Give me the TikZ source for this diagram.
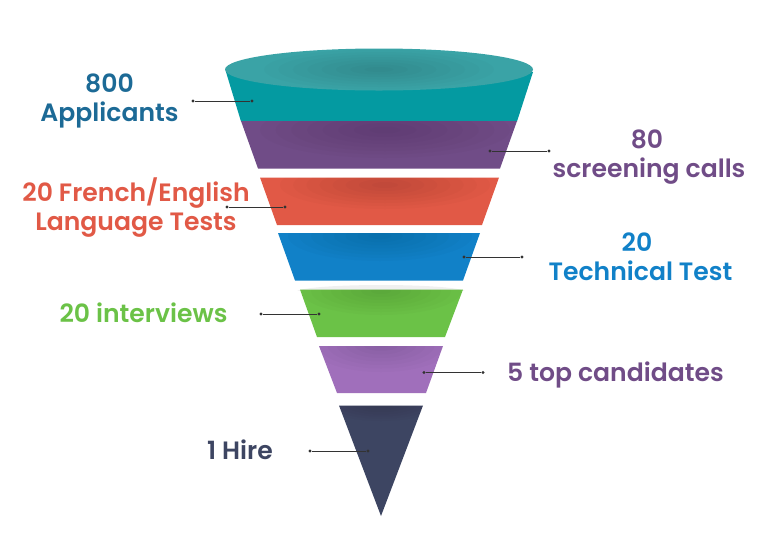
\documentclass[tikz,border=0pt]{standalone}
\usepackage{fontspec}
\setmainfont{Poppins}[UprightFont=* Medium,BoldFont=* SemiBold]
\definecolor{cteal}{HTML}{049AA1}
\definecolor{ctop}{HTML}{3AA3A6}
\definecolor{cpurple}{HTML}{704C87}
\definecolor{cred}{HTML}{E15946}
\definecolor{cblue}{HTML}{1181C8}
\definecolor{cgreen}{HTML}{6BC247}
\definecolor{clilac}{HTML}{A06FBB}
\definecolor{cnavy}{HTML}{3D4562}
\definecolor{ctitle}{HTML}{1C6A96}
\definecolor{cleader}{HTML}{333333}
\tikzset{
  x=1pt,y=-1pt,
  lab/.style={font=\bfseries\fontsize{25.1}{29}\selectfont,align=center,inner sep=0pt},
  leader/.style={draw=cleader,line width=1pt},
  dot/.style={circle,fill=cleader,inner sep=0pt,minimum size=3.4pt},
}
% #1 polygon path, #2 centre x, #3 centre y, #4 rx, #5 ry
\newcommand{\glow}[5]{%
  \begin{scope}
    \clip #1;
    \foreach \k in {1,...,8}{
      \fill[black,fill opacity=0.014] (#2,#3) ellipse [x radius={#4*\k/8},y radius={#5*\k/8}];
    }
  \end{scope}}
\begin{document}
\begin{tikzpicture}
\useasboundingbox (0,0) rectangle (758,550);
% faint halos above the lower tiers
\begin{scope}
  \clip (290,283) rectangle (475,290);
  \fill[black,fill opacity=0.06] (381,292) ellipse [x radius=85,y radius=7];
\end{scope}
% funnel
\fill[cteal] (226,72) -- (241,121.5) -- (517,121.5) -- (533,72) -- cycle;
\fill[cpurple] (241,121) -- (517,121) -- (500,168.5) -- (258,168.5) -- cycle;
\glow{(241,121) -- (517,121) -- (500,168.5) -- (258,168.5) -- cycle}{385}{130}{125}{28}
\fill[cred] (260,177.5) -- (499,177.5) -- (482,225) -- (277,225) -- cycle;
\glow{(260,177.5) -- (499,177.5) -- (482,225) -- (277,225) -- cycle}{385}{185}{105}{24}
\fill[cblue] (278,233) -- (480,233) -- (463,280.5) -- (295,280.5) -- cycle;
\glow{(278,233) -- (480,233) -- (463,280.5) -- (295,280.5) -- cycle}{380}{236}{92}{25}
\fill[cgreen] (300,289.5) -- (463,289.5) -- (445,337) -- (317,337) -- cycle;
\glow{(300,289.5) -- (463,289.5) -- (445,337) -- (317,337) -- cycle}{381}{291}{80}{24}
\fill[clilac] (319,346) -- (443,346) -- (426,393) -- (337,393) -- cycle;
\glow{(319,346) -- (443,346) -- (426,393) -- (337,393) -- cycle}{381}{344}{72}{28}
\fill[cnavy] (339,405.5) -- (423,405.5) -- (381,516) -- cycle;
\glow{(339,405.5) -- (423,405.5) -- (381,516) -- cycle}{381}{403}{60}{18}
\fill[ctop] (379,69.5) ellipse [x radius=154,y radius=21];
\glow{(225,49) rectangle (533,91)}{379}{69.5}{115}{20}
% leaders
\foreach \nm/\ax/\ay/\bx in {a/193/101/252,b/549/151/490,c/227/207/285,d/522/257/464,e/261/314/319,f/483/372.5/424,g/310/451/368}{
  \node[dot] (\nm1) at (\ax,\ay) {};
  \node[dot] (\nm2) at (\bx,\ay) {};
  \draw[leader] (\nm1) -- (\nm2);
}
% labels
\node[lab,text=ctitle] (t1) at (109.5,101) {800\\Applicants};
\node[lab,text=cpurple] (t2) at (649,157) {\hspace*{-4pt}80\\screening calls};
\node[lab,text=cred] (t3) at (136,208) {20 French/English\\Language Tests};
\node[lab,text=cblue] (t4) at (640.5,257) {\hspace*{-7pt}20\\Technical Test};
\node[lab,text=cgreen] (t5) at (143.5,313) {20 interviews};
\node[lab,text=cpurple] (t6) at (615.5,375) {5 top candidates};
\node[lab,text=cnavy] (t7) at (240,450) {1 Hire};
\end{tikzpicture}
\end{document}
